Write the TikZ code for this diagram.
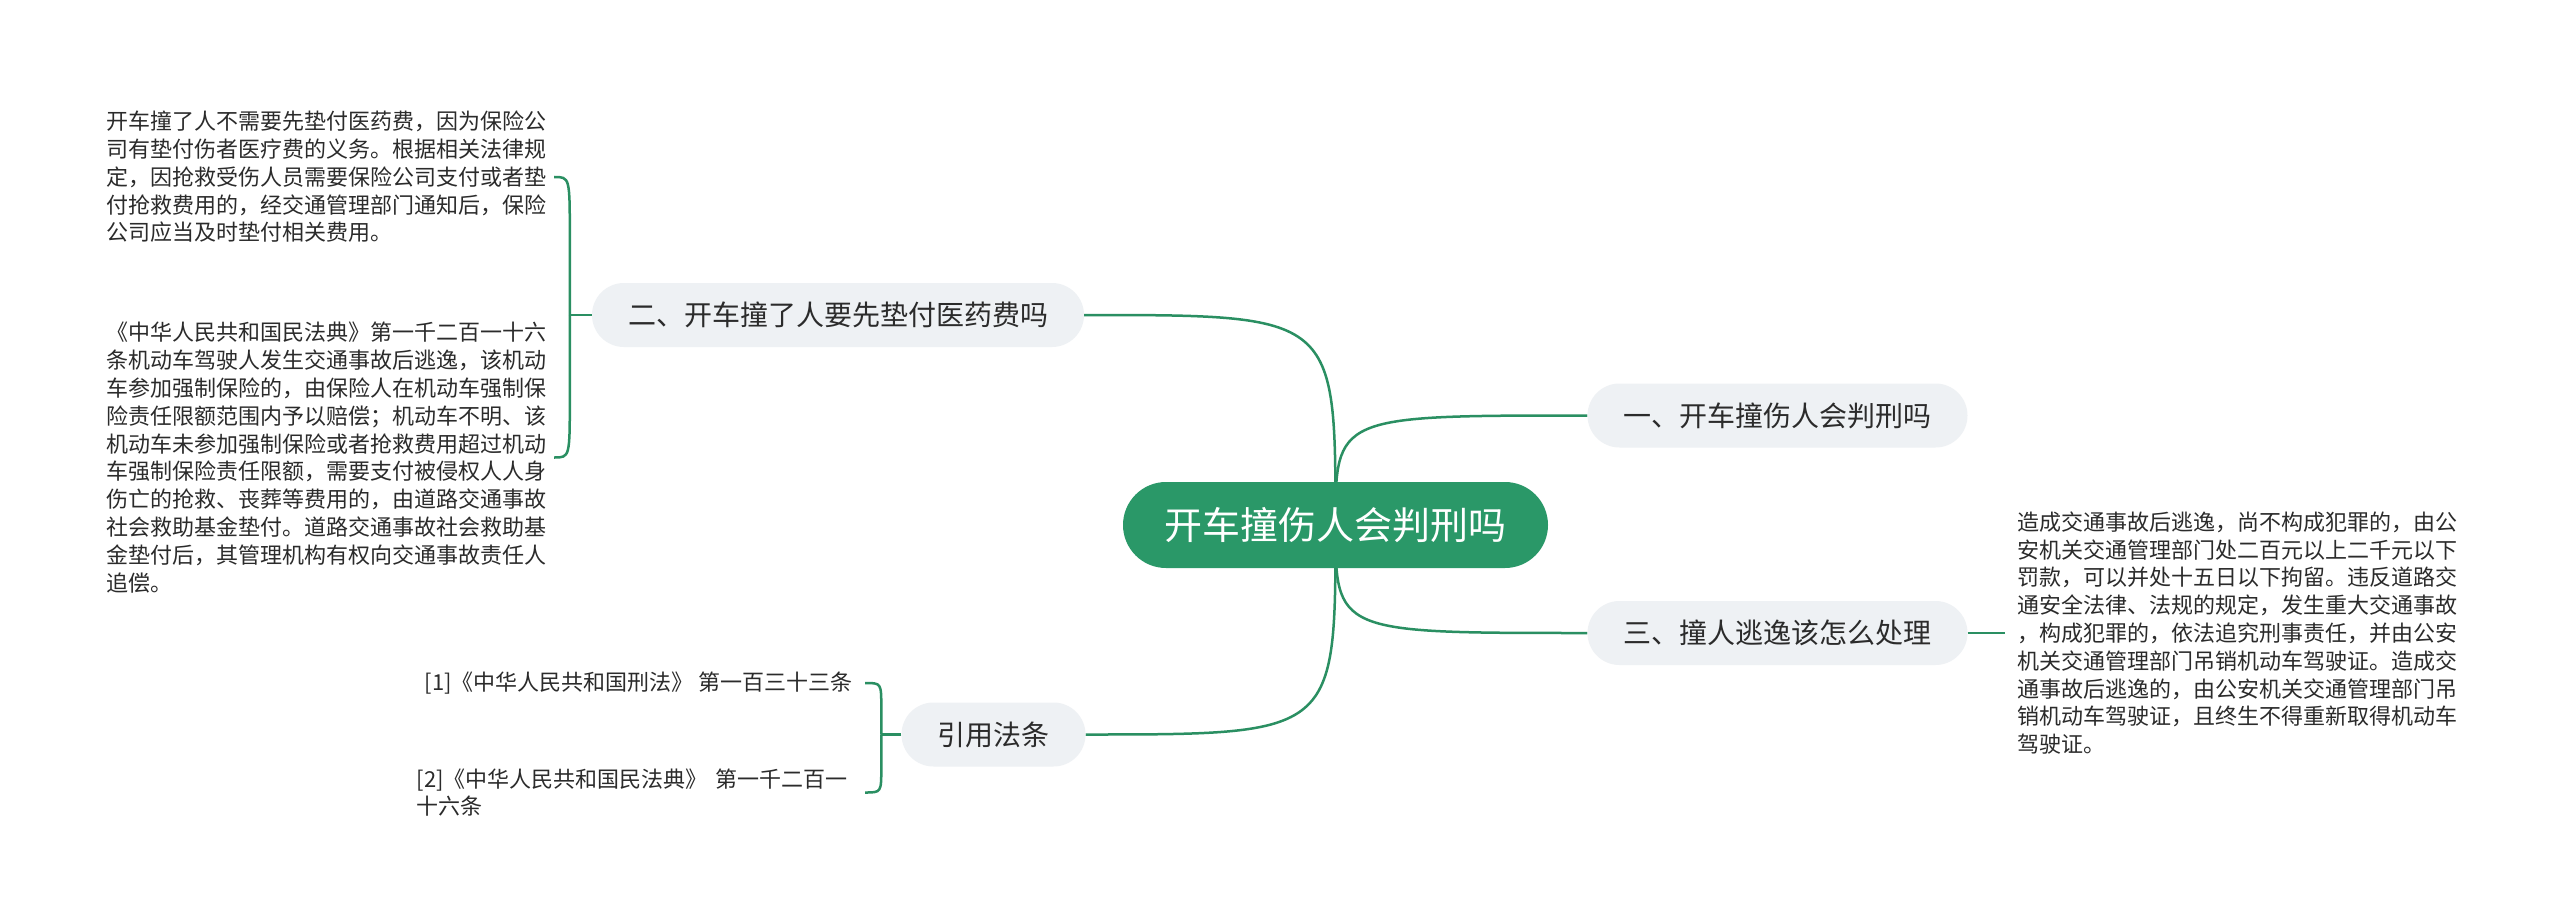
\documentclass[tikz,border=0pt]{standalone}
\usepackage{fontspec}
\newfontfamily\cjk{Noto Sans CJK SC}
\usetikzlibrary{calc,backgrounds}
\definecolor{rootgreen}{HTML}{2A9868}
\definecolor{linegreen}{HTML}{2A8F62}
\definecolor{topicgray}{HTML}{EEF1F4}
\definecolor{inkgray}{HTML}{2B2B2B}

\begin{document}
\begin{tikzpicture}[x=1pt, y=-1pt,
  rootbox/.style={fill=rootgreen, text=white, rounded corners=43pt, minimum width=425pt,
    minimum height=86pt, inner sep=0pt, font=\cjk\fontsize{38}{44}\selectfont},
  topic/.style={fill=topicgray, text=inkgray, rounded corners=32pt, minimum height=64pt,
    inner xsep=36pt, inner ysep=0pt, font=\cjk\fontsize{28}{34}\selectfont},
  body/.style={text=inkgray, align=left, inner xsep=8pt, inner ysep=0pt,
    font=\cjk\fontsize{22}{27.8}\selectfont},
  link/.style={draw=linegreen, line width=2.5pt}]
  \useasboundingbox (0,0) rectangle (2560,923);
  % main topics
  \node[rootbox] (root) at (1335.5,525) {开车撞伤人会判刑吗};
  \node[topic] (n2) at (838,315) {二、开车撞了人要先垫付医药费吗};
  \node[topic] (n1) at (1777.5,415.5) {一、开车撞伤人会判刑吗};
  \node[topic] (n3) at (1777.5,633) {三、撞人逃逸该怎么处理};
  \node[topic] (cite) at (993.5,734.5) {引用法条};
  % text blocks
  \node[body, text width=440pt] (p1) at (326,177) {开车撞了人不需要先垫付医药费，因为保险公\\
    司有垫付伤者医疗费的义务。根据相关法律规\\
    定，因抢救受伤人员需要保险公司支付或者垫\\
    付抢救费用的，经交通管理部门通知后，保险\\
    公司应当及时垫付相关费用。};
  \node[body, text width=440pt] (p2) at (326,457.5) {《中华人民共和国民法典》第一千二百一十六\\
    条机动车驾驶人发生交通事故后逃逸，该机动\\
    车参加强制保险的，由保险人在机动车强制保\\
    险责任限额范围内予以赔偿；机动车不明、该\\
    机动车未参加强制保险或者抢救费用超过机动\\
    车强制保险责任限额，需要支付被侵权人人身\\
    伤亡的抢救、丧葬等费用的，由道路交通事故\\
    社会救助基金垫付。道路交通事故社会救助基\\
    金垫付后，其管理机构有权向交通事故责任人\\
    追偿。};
  \node[body, text width=440pt, inner xsep=12pt] (p3) at (2237,633) {造成交通事故后逃逸，尚不构成犯罪的，由公\\
    安机关交通管理部门处二百元以上二千元以下\\
    罚款，可以并处十五日以下拘留。违反道路交\\
    通安全法律、法规的规定，发生重大交通事故\\
    ，构成犯罪的，依法追究刑事责任，并由公安\\
    机关交通管理部门吊销机动车驾驶证。造成交\\
    通事故后逃逸的，由公安机关交通管理部门吊\\
    销机动车驾驶证，且终生不得重新取得机动车\\
    驾驶证。};
  \node[body, inner xsep=12pt, anchor=east] (c1) at (865,683) {[1]《中华人民共和国刑法》 第一百三十三条};
  \node[body, text width=436pt, inner xsep=12pt, anchor=east] (c2) at (865,792.5) {[2]《中华人民共和国民法典》 第一千二百一\\
    十六条};
  % connectors
  \begin{scope}[on background layer]
    \fill[white] (0,0) rectangle (2560,923);
    \draw[link] (root.center) .. controls (root.center |- n2.east) .. (n2.east);
    \draw[link] (root.center) .. controls (root.center |- n1.west) .. (n1.west);
    \draw[link] (root.center) .. controls (root.center |- n3.west) .. (n3.west);
    \draw[link] (root.center) .. controls (root.center |- cite.east) .. (cite.east);
  \end{scope}
  \draw[link] (n2.west) -- ++(-22,0) coordinate (k2);
  \draw[link] (k2) -- ($(k2 |- p1.east)+(0,60)$) .. controls (k2 |- p1.east) .. (p1.east);
  \draw[link] (k2) -- ($(k2 |- p2.east)+(0,-60)$) .. controls (k2 |- p2.east) .. (p2.east);
  \draw[link] (cite.west) -- ++(-20,0) coordinate (kc);
  \draw[link] (kc) -- ($(kc |- c1.east)+(0,25)$) .. controls (kc |- c1.east) .. (c1.east);
  \draw[link] (kc) -- ($(kc |- c2.east)+(0,-25)$) .. controls (kc |- c2.east) .. (c2.east);
  \draw[link] (n3.east) -- (p3.west);
\end{tikzpicture}
\end{document}
